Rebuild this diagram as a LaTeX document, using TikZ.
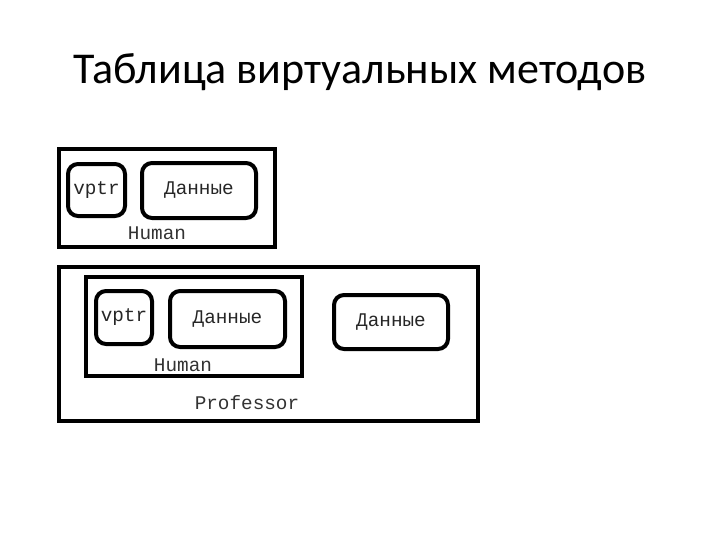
\documentclass[tikz,border=0pt]{standalone}
\usepackage{fontspec}
\setmainfont{Carlito}
\newfontfamily\monofont{Liberation Mono}
\begin{document}
\begin{tikzpicture}[x=0.75pt,y=-0.75pt,
  outerbox/.style={draw,line width=3pt,rectangle,inner sep=0pt,outer sep=0pt},
  roundbox/.style={draw,line width=3pt,rectangle,rounded corners=7.5pt,inner sep=0pt,outer sep=0pt,font=\monofont\fontsize{14.5}{16}\selectfont,text=black!85},
  lbl/.style={inner sep=0pt,font=\monofont\fontsize{14.5}{16}\selectfont,text=black!80}]
\useasboundingbox[fill=white] (0,0) rectangle (720,540);
\node[anchor=base,font=\fontsize{33}{40}\selectfont] (title) at (360,83) {Таблица виртуальных методов};
% top Human object
\node[outerbox,minimum width={216*0.75pt},minimum height={98*0.75pt}] (outer1) at (167,198) {};
\node[roundbox,minimum width={57*0.75pt},minimum height={52*0.75pt}] (vptr1) at (96.5,190) {vptr};
\node[roundbox,minimum width={114*0.75pt},minimum height={55*0.75pt}] (data1) at (199,190.5) {Данные};
\node[lbl] (human1) at (157,233) {Human};
% Professor object
\node[outerbox,minimum width={419*0.75pt},minimum height={154*0.75pt}] (outer2) at (268.5,344) {};
\node[outerbox,minimum width={216*0.75pt},minimum height={99*0.75pt}] (inner2) at (194,326.5) {};
\node[roundbox,minimum width={56*0.75pt},minimum height={53*0.75pt}] (vptr2) at (124,317.5) {vptr};
\node[roundbox,minimum width={115*0.75pt},minimum height={56*0.75pt}] (data2) at (227.5,319) {Данные};
\node[roundbox,minimum width={114*0.75pt},minimum height={54*0.75pt}] (data3) at (391,322) {Данные};
\node[lbl] (human2) at (183,365) {Human};
\node[lbl] (prof) at (247,403) {Professor};
\end{tikzpicture}
\end{document}
